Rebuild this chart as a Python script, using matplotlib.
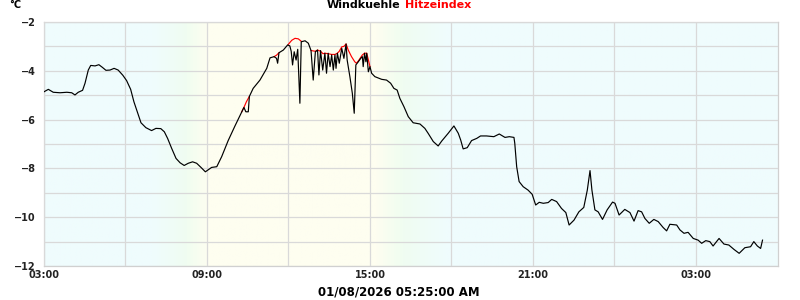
import numpy as np
import matplotlib.pyplot as plt
from matplotlib.colors import LinearSegmentedColormap

# hours after 03:00 and wind chill values (degC)
wc_hours = [0.00, 0.16, 0.34, 0.59, 0.84, 1.02, 1.14, 1.26, 1.42, 1.51, 1.63, 1.72, 1.88, 2.02,
            2.15, 2.28, 2.43, 2.58, 2.73, 2.90, 3.04, 3.19, 3.31, 3.45, 3.57, 3.75, 3.96, 4.12,
            4.30, 4.43, 4.55, 4.70, 4.86, 5.01, 5.16, 5.31, 5.47, 5.62, 5.78, 5.94, 6.17, 6.36,
            6.54, 6.78, 7.03, 7.28, 7.36, 7.43, 7.52, 7.56, 7.70, 7.95, 8.20, 8.32, 8.47, 8.56,
            8.60, 8.65, 8.81, 8.97, 9.05, 9.10, 9.15, 9.21, 9.28, 9.34, 9.42, 9.47, 9.61, 9.73,
            9.83, 9.91, 9.99, 10.07, 10.12, 10.18, 10.26, 10.34, 10.40, 10.46, 10.53, 10.59,
            10.65, 10.71, 10.75, 10.80, 10.87, 10.96, 11.04, 11.12, 11.16, 11.26, 11.35, 11.42,
            11.48, 11.57, 11.66, 11.72, 11.75, 11.80, 11.85, 11.88, 11.94, 12.00, 12.06, 12.18,
            12.43, 12.61, 12.76, 12.88, 13.00, 13.10, 13.25, 13.41, 13.59, 13.84, 14.02, 14.14,
            14.33, 14.51, 14.64, 14.88, 15.09, 15.25, 15.34, 15.43, 15.58, 15.74, 15.93, 16.07,
            16.29, 16.56, 16.76, 16.97, 17.13, 17.30, 17.33, 17.40, 17.49, 17.64, 17.82, 17.97,
            18.10, 18.23, 18.38, 18.56, 18.69, 18.87, 19.05, 19.21, 19.33, 19.51, 19.69, 19.87,
            20.00, 20.10, 20.17, 20.28, 20.40, 20.56, 20.73, 20.93, 21.02, 21.17, 21.38, 21.57,
            21.72, 21.87, 22.00, 22.12, 22.28, 22.45, 22.61, 22.79, 22.92, 23.04, 23.29, 23.41,
            23.56, 23.71, 23.90, 24.08, 24.21, 24.36, 24.51, 24.63, 24.85, 25.03, 25.21, 25.40,
            25.59, 25.80, 26.01, 26.13, 26.26, 26.38, 26.45]
windchill = [-4.86, -4.76, -4.88, -4.90, -4.88, -4.90, -4.99, -4.88, -4.80, -4.51, -3.97, -3.78,
             -3.80, -3.75, -3.86, -3.98, -3.97, -3.90, -3.97, -4.18, -4.40, -4.76, -5.27, -5.74,
             -6.13, -6.33, -6.45, -6.36, -6.37, -6.50, -6.77, -7.18, -7.59, -7.77, -7.88, -7.79,
             -7.73, -7.79, -7.96, -8.14, -7.96, -7.93, -7.52, -6.86, -6.26, -5.68, -5.50, -5.68,
             -5.68, -5.05, -4.72, -4.38, -3.90, -3.47, -3.42, -3.49, -3.69, -3.26, -3.15, -2.94,
             -2.98, -3.20, -3.76, -3.22, -3.56, -3.12, -5.33, -2.81, -2.77, -2.87, -3.17, -4.38,
             -3.22, -3.15, -4.17, -3.17, -3.97, -3.28, -4.10, -3.28, -3.83, -3.35, -3.97, -3.35,
             -3.90, -3.28, -3.69, -3.08, -3.49, -2.90, -3.56, -4.24, -4.92, -5.74, -3.76, -3.63,
             -3.49, -3.42, -3.83, -3.28, -3.63, -3.28, -4.04, -3.83, -4.10, -4.24, -4.35, -4.38,
             -4.51, -4.72, -4.79, -5.13, -5.47, -5.88, -6.13, -6.18, -6.36, -6.56, -6.90, -7.08,
             -6.88, -6.56, -6.26, -6.56, -6.84, -7.20, -7.15, -6.86, -6.77, -6.67, -6.67, -6.70,
             -6.59, -6.73, -6.70, -6.73, -6.97, -7.93, -8.54, -8.75, -8.89, -9.06, -9.50, -9.39,
             -9.43, -9.40, -9.27, -9.36, -9.64, -9.81, -10.32, -10.12, -9.78, -9.60, -8.89, -8.09,
             -8.89, -9.70, -9.78, -10.09, -9.70, -9.38, -9.43, -9.91, -9.68, -9.81, -10.16, -9.73,
             -9.78, -10.05, -10.25, -10.09, -10.18, -10.42, -10.56, -10.29, -10.32, -10.52, -10.66,
             -10.62, -10.87, -10.94, -11.07, -10.96, -11.00, -11.18, -10.87, -11.10, -11.14,
             -11.32, -11.48, -11.25, -11.21, -11.00, -11.18, -11.28, -10.94]

# heat index, only where it sits above the wind chill (gaps = nan)
hi_hours = [7.28, 7.36, 7.45, 7.56, np.nan,
            8.47, 8.56, 8.65, np.nan,
            8.99, 9.12, 9.24, 9.36, 9.47, np.nan,
            9.83, 9.99, 10.07, 10.18, 10.27, 10.34, 10.46, 10.59, 10.71, 10.80, 10.87, 10.96,
            11.04, 11.12, 11.20, 11.32, 11.44, 11.50, 11.57, 11.66, 11.72, 11.80, 11.88, 11.94, 12.00]
heatindex = [-5.68, -5.50, -5.27, -5.05, np.nan,
             -3.42, -3.36, -3.26, np.nan,
             -2.92, -2.75, -2.67, -2.69, -2.79, np.nan,
             -3.17, -3.20, -3.15, -3.20, -3.30, -3.28, -3.30, -3.33, -3.33, -3.28, -3.20, -3.02,
             -3.00, -2.90, -3.15, -3.42, -3.63, -3.69, -3.60, -3.45, -3.35, -3.28, -3.28, -3.55, -3.83]

tick_hours = [0, 6, 12, 18, 24]
tick_labels = ['03:00', '09:00', '15:00', '21:00', '03:00']
x_max = 27.02

# background: night cyan, dawn/dusk green, day yellow
bg_stops = [(0.0, '#effcfd'), (4.0, '#effcfd'), (5.2, '#f0fdf1'), (6.0, '#fefef0'),
            (12.2, '#fefef0'), (13.2, '#f0fdf1'), (14.8, '#effcfd'), (x_max, '#effcfd')]
cmap = LinearSegmentedColormap.from_list('sky', [(h / x_max, c) for h, c in bg_stops])

fig = plt.figure(figsize=(8, 3), dpi=100)
ax = fig.add_axes([0.055, 0.1133, 0.9175, 0.8134])
ax.imshow(np.linspace(0, 1, 600).reshape(1, -1), cmap=cmap, aspect='auto',
          extent=[0, x_max, -12, -2], zorder=0)

ax.plot(hi_hours, heatindex, color='#ff0000', lw=0.85, zorder=3)
ax.plot(wc_hours, windchill, color='black', lw=0.85, zorder=4)

ax.set_xlim(0, x_max)
ax.set_ylim(-12, -2)
ax.set_xticks(tick_hours)
ax.set_xticklabels(tick_labels)
ax.set_xticks(np.arange(3, 27, 6), minor=True)
ax.set_yticks(np.arange(-12, -1, 2))
ax.set_yticks(np.arange(-11, -2, 2), minor=True)
ax.grid(True, which='both', color='#d9d9d9', lw=0.9, zorder=1)
ax.set_axisbelow(False)
for s in ax.spines.values():
    s.set_color('#d0d0d0')
    s.set_linewidth(0.9)
ax.tick_params(which='both', length=0)
ax.tick_params(axis='x', pad=3)
ax.tick_params(axis='y', pad=6)
for lab in ax.get_xticklabels() + ax.get_yticklabels():
    lab.set_fontsize(7)
    lab.set_fontweight('bold')
    lab.set_color('#222222')

fig.text(0.012, 0.985, '°C', fontsize=7, fontweight='bold', ha='left', va='center')
fig.text(0.5, 0.982, 'Windkuehle', fontsize=8, fontweight='bold', ha='right', va='center')
fig.text(0.506, 0.982, 'Hitzeindex', fontsize=8, fontweight='bold', ha='left', va='center',
         color='#ff0000')
fig.text(0.499, 0.027, '01/08/2026 05:25:00 AM', fontsize=8.5, fontweight='bold',
         ha='center', va='center')

fig.savefig('out.png', dpi=100)
